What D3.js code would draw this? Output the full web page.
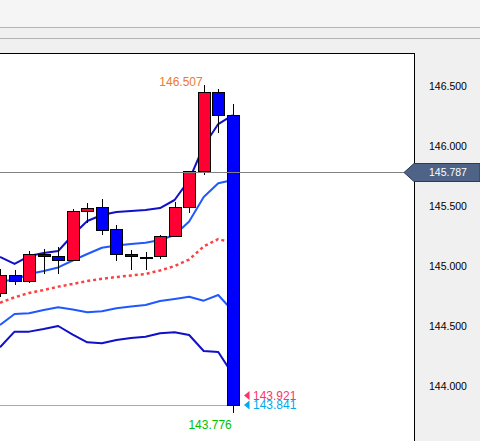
<!DOCTYPE html>
<html>
<head>
<meta charset="utf-8">
<script src="https://cdn.jsdelivr.net/npm/d3@7"></script>
<style>
  html, body { margin: 0; padding: 0; background: #f0f0f0; }
  svg { display: block; }
  text { font-family: "Liberation Sans", Arial, sans-serif; }
</style>
</head>
<body>
<script>
// ---- data ----
const candleIndex = d3.range(17);
const opens  = [144.767,144.917,144.875,145.096,145.081,145.047,145.458,145.489,145.306,145.097,145.075,145.081,145.250,145.489,145.786,146.447,146.256];
const highs  = [144.975,144.967,145.125,145.144,145.156,145.475,145.525,145.556,145.342,145.131,145.117,145.258,145.531,145.794,146.507,146.475,146.347];
const lows   = [144.742,144.842,144.862,144.931,144.931,145.046,145.361,145.261,145.044,144.964,144.964,145.062,145.247,145.439,145.756,146.106,143.776];
const closes = [144.917,144.875,145.100,145.079,145.047,145.456,145.481,145.297,145.097,145.081,145.075,145.247,145.489,145.786,146.447,146.256,143.841];

const maMid   = [144.694,144.739,144.775,144.800,144.828,144.850,144.875,144.893,144.908,144.921,144.933,144.963,145.000,145.054,145.163,145.225,145.192];
const bandUp1 = [144.875,144.883,144.933,144.958,144.988,145.046,145.100,145.152,145.171,145.183,145.194,145.217,145.258,145.371,145.575,145.689,145.717];
const bandUp2 = [145.075,145.017,145.083,145.108,145.125,145.258,145.375,145.425,145.450,145.458,145.467,145.483,145.550,145.717,146.000,146.183,146.258];
const bandLo1 = [144.508,144.600,144.606,144.633,144.656,144.638,144.614,144.623,144.648,144.663,144.675,144.708,144.725,144.744,144.711,144.758,144.625];
const bandLo2 = [144.323,144.453,144.453,144.475,144.500,144.429,144.364,144.356,144.383,144.400,144.411,144.439,144.448,144.425,144.292,144.283,144.097];

const yTicks = [144.0, 144.5, 145.0, 145.5, 146.0, 146.5];
const markerPrice = 145.787;
const askPrice = 143.921;
const bidPrice = 143.841;
const highLabel = "146.507";
const lowLabel = "143.776";

// ---- layout ----
const W = 480, H = 441;
const plotLeft = 0, plotRight = 414, plotTop = 53, plotBottom = 441;

const svg = d3.select("body").append("svg").attr("width", W).attr("height", H);

// header bands
svg.append("rect").attr("x",0).attr("y",0).attr("width",W).attr("height",27).attr("fill","#f5f5f5");
svg.append("rect").attr("x",0).attr("y",27).attr("width",W).attr("height",H-27).attr("fill","#f0f0f0");
svg.append("line").attr("x1",0).attr("x2",W).attr("y1",27.5).attr("y2",27.5).attr("stroke","#b4b4b4");
svg.append("line").attr("x1",0).attr("x2",W).attr("y1",38.5).attr("y2",38.5).attr("stroke","#b4b4b4");

// plot background
svg.append("rect").attr("x",plotLeft).attr("y",plotTop).attr("width",plotRight-plotLeft).attr("height",plotBottom-plotTop).attr("fill","#ffffff");

const y = d3.scaleLinear().domain([144.0, 146.5]).range([386, 86]);
const x = d3.scaleLinear().domain([0, 16]).range([0, 232.8]);

svg.append("clipPath").attr("id","plotclip").append("rect")
  .attr("x",plotLeft).attr("y",plotTop+1).attr("width",plotRight-plotLeft).attr("height",plotBottom-plotTop);

const plot = svg.append("g").attr("clip-path","url(#plotclip)");

// gridlines
const grid = d3.axisLeft(y).tickValues(yTicks).tickSize(-(plotRight-plotLeft)).tickFormat("");
plot.append("g").attr("transform",`translate(${plotRight},0)`).call(grid)
  .call(g => g.select(".domain").remove())
  .call(g => g.selectAll("line").attr("stroke","#c8c8c8").attr("shape-rendering","crispEdges"));

// bid line (orange)
plot.append("line")
  .attr("x1",plotLeft).attr("x2",Math.round(x(16))-6)
  .attr("y1",y(bidPrice)).attr("y2",y(bidPrice))
  .attr("stroke","#e8a030").attr("stroke-width",1).attr("shape-rendering","crispEdges");

// bands
const line = d3.line().x((d,i)=>x(i)).y(d=>y(d));
const lineStyles = [
  {data: bandLo2, color: "#1010c8", dash: null, w: 2},
  {data: bandLo1, color: "#2058ff", dash: null, w: 2},
  {data: bandUp2, color: "#1010c8", dash: null, w: 2},
  {data: bandUp1, color: "#2058ff", dash: null, w: 2},
  {data: maMid,   color: "#ff4040", dash: "3,3", w: 2.5}
];
lineStyles.forEach(s => {
  plot.append("path").datum(s.data).attr("d", line)
    .attr("fill","none").attr("stroke", s.color).attr("stroke-width", s.w)
    .attr("stroke-dasharray", s.dash).attr("stroke-linejoin","round");
});

// candles
const candles = plot.append("g").selectAll("g").data(candleIndex).join("g");
candles.append("line")
  .attr("x1", i => Math.round(x(i)) + 0.5).attr("x2", i => Math.round(x(i)) + 0.5)
  .attr("y1", i => y(highs[i])).attr("y2", i => y(lows[i]))
  .attr("stroke","#000").attr("stroke-width",1).attr("shape-rendering","crispEdges");
candles.append("rect")
  .attr("x", i => Math.round(x(i)) - 5.5)
  .attr("width", 12)
  .attr("y", i => y(Math.max(opens[i], closes[i])))
  .attr("height", i => Math.max(1, Math.abs(y(opens[i]) - y(closes[i]))))
  .attr("fill", i => closes[i] > opens[i] ? "#ff0033" : (closes[i] < opens[i] ? "#0000ff" : "#000"))
  .attr("stroke","#000").attr("stroke-width",1).attr("shape-rendering","crispEdges");

// marker line (grey)
svg.append("line")
  .attr("x1",plotLeft).attr("x2",404)
  .attr("y1",Math.round(y(markerPrice))+0.5).attr("y2",Math.round(y(markerPrice))+0.5)
  .attr("stroke","#808080").attr("stroke-width",1);

// plot border
svg.append("line").attr("x1",0).attr("x2",plotRight+0.5).attr("y1",plotTop+0.5).attr("y2",plotTop+0.5).attr("stroke","#000");
svg.append("line").attr("x1",plotRight+0.5).attr("x2",plotRight+0.5).attr("y1",plotTop).attr("y2",H).attr("stroke","#000");

// right axis labels
const axis = d3.axisRight(y).tickValues(yTicks).tickSize(0).tickPadding(0).tickFormat(d3.format(".3f"));
svg.append("g").attr("transform","translate(429,0)").call(axis)
  .call(g => g.select(".domain").remove())
  .call(g => g.selectAll("text").attr("font-size","10.5px").attr("fill","#000")
    .attr("font-family","'Liberation Sans', Arial, sans-serif"));

// current marker label
const my = Math.round(y(markerPrice)) + 0.5;
svg.append("path")
  .attr("d", `M404,${my} L414,${my-9} L480,${my-9} L480,${my+9} L414,${my+9} Z`)
  .attr("fill","#4e6385").attr("stroke","#2c3c58").attr("stroke-width",1);
svg.append("text").attr("x",429).attr("y",my).attr("dy","0.35em")
  .attr("font-size","10.5px").attr("fill","#fff").text(d3.format(".3f")(markerPrice));

// high / low labels
svg.append("text").attr("x", x(14) - 1).attr("y", y(+highLabel) + 1)
  .attr("text-anchor","end").attr("font-size","12px").attr("fill","#f07830").text(highLabel);
svg.append("text").attr("x", x(16) - 1).attr("y", y(+lowLabel) + 16)
  .attr("text-anchor","end").attr("font-size","12px").attr("fill","#00c000").text(lowLabel);

// ask / bid labels
[[askPrice, "#ff3366"], [bidPrice, "#00aaee"]].forEach(([p, c]) => {
  const yy = y(p);
  svg.append("path").attr("d", `M244,${yy} L249.5,${yy-4.5} L249.5,${yy+4.5} Z`).attr("fill", c);
  svg.append("text").attr("x",253).attr("y",yy).attr("dy","0.36em")
    .attr("font-size","12px").attr("fill",c).text(d3.format(".3f")(p));
});
</script>
</body>
</html>
